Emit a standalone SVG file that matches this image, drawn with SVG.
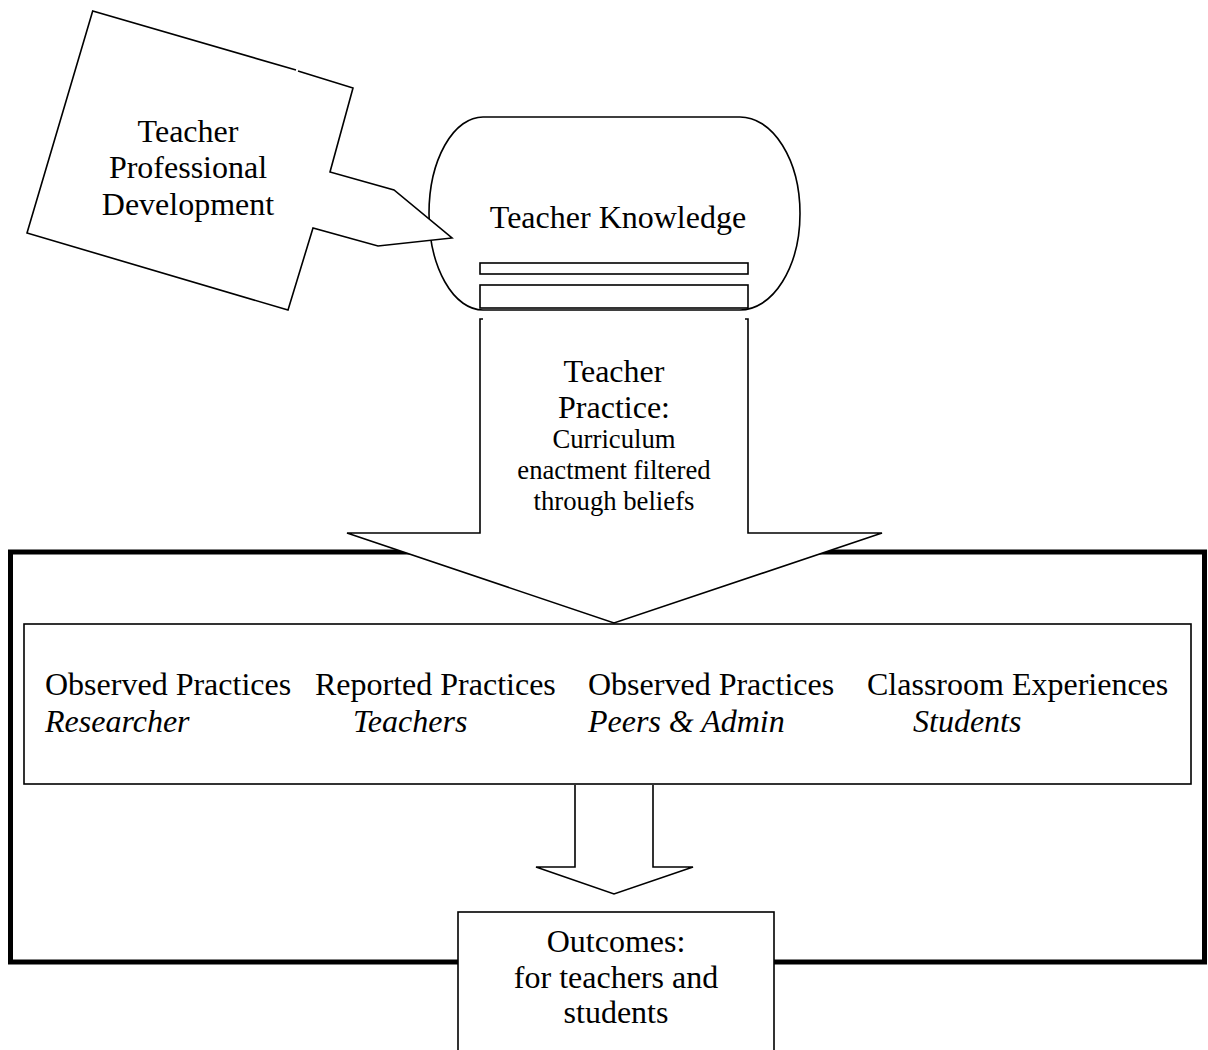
<svg xmlns="http://www.w3.org/2000/svg" width="1208" height="1050" viewBox="0 0 1208 1050">
<style>
.ln{fill:#fff;stroke:#000;stroke-width:1.6;stroke-linejoin:miter}
.open{fill:none;stroke:#000;stroke-width:1.6}
.t{font-family:"Liberation Serif","Times New Roman",serif;font-size:32px;fill:#000}
.s{font-family:"Liberation Serif","Times New Roman",serif;font-size:26.7px;fill:#000}
.c{text-anchor:middle}
.i{font-style:italic}
</style>
<rect width="1208" height="1050" fill="#fff"/>
<g id="frame">
<rect x="10.5" y="552" width="1194" height="410" fill="none" stroke="#000" stroke-width="5"/>
</g>
<g id="teacher-knowledge">
<path class="ln" d="M483,117 H740 A60,96.5 0 0 1 740,310 H483 A54,96.5 0 0 1 483,117 Z"/>
<rect class="ln" x="480" y="263" width="268" height="11"/>
<rect class="ln" x="480" y="285" width="268" height="23"/>
<text class="t c" x="618" y="228">Teacher Knowledge</text>
</g>
<g id="professional-development">
<polygon fill="#fff" points="92.7,11 353,88 330,172 394,190 452,238 378,246 313,228 288,310 27,233"/>
<path class="open" d="M298,71 L353,88 L330,172 L394,190 L452,238 L378,246 L313,228 L288,310 L27,233 L92.7,11 L296,70"/>
<text class="t c" x="188" y="142">Teacher</text>
<text class="t c" x="188" y="178">Professional</text>
<text class="t c" x="188" y="215">Development</text>
</g>
<g id="connectors">
<g id="practice-arrow">
<polygon fill="#fff" points="480,319 748,319 748,533 882,533 614,623 347,533 480,533"/>
<path class="open" d="M483,319 H480 V533 H347 L614,623 L882,533 H748 V319 H745"/>
</g>
<g id="outcome-arrow">
<polygon fill="#fff" points="575,785 653,785 653,867 693,867 614,894 536,867 575,867"/>
<path class="open" d="M575,785 V867 H536 L614,894 L693,867 H653 V785"/>
</g>
</g>
<g id="teacher-practice">
<text class="t c" x="614" y="382">Teacher</text>
<text class="t c" x="614" y="418">Practice:</text>
<text class="s c" x="614" y="448">Curriculum</text>
<text class="s c" x="614" y="479">enactment filtered</text>
<text class="s c" x="614" y="510">through beliefs</text>
</g>
<g id="measures">
<rect class="ln" x="24" y="624" width="1167" height="160"/>
<text class="t" x="45" y="695">Observed Practices</text>
<text class="t i" x="45" y="732">Researcher</text>
<text class="t" x="315" y="695">Reported Practices</text>
<text class="t i" x="353" y="732">Teachers</text>
<text class="t" x="588" y="695">Observed Practices</text>
<text class="t i" x="588" y="732">Peers &amp; Admin</text>
<text class="t" x="867" y="695">Classroom Experiences</text>
<text class="t i" x="913" y="732">Students</text>
</g>
<g id="outcomes">
<rect class="ln" x="458" y="912" width="316" height="150"/>
<text class="t c" x="616" y="952">Outcomes:</text>
<text class="t c" x="616" y="988">for teachers and</text>
<text class="t c" x="616" y="1023">students</text>
</g>
</svg>
